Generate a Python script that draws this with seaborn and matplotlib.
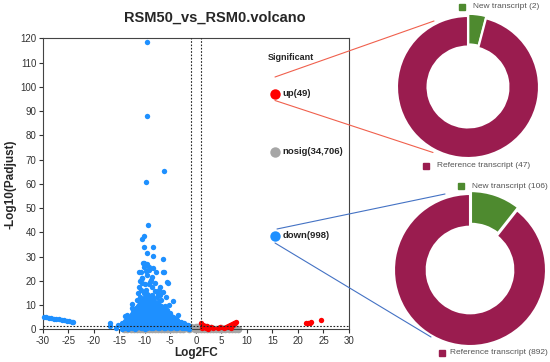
import numpy as np
import pandas as pd
import matplotlib
matplotlib.use("Agg")
import matplotlib.pyplot as plt
from matplotlib.lines import Line2D
from matplotlib.patches import Rectangle
import seaborn as sns

sns.set_theme(style="ticks")
plt.rcParams['font.family'] = ['Liberation Sans', 'DejaVu Sans']

# ---------------- data ----------------
title = "RSM50_vs_RSM0.volcano"
x_ticks = [-30, -25, -20, -15, -10, -5, 0, 5, 10, 15, 20, 25, 30]
y_ticks = [0, 10, 20, 30, 40, 50, 60, 70, 80, 90, 100, 110, 120]
fc_cut = 1.0
p_cut = 1.3

sig_labels = ["up(49)", "nosig(34,706)", "down(998)"]
sig_colors = ["#FF0000", "#A6A6A6", "#1E90FF"]

# down-regulated (blue)
down_line_x = [-29.8, -29.3, -28.8, -28.3, -27.8, -27.3, -26.8, -26.3, -25.8, -25.3, -24.8, -24.3, -24.0]
down_line_y = [5.2, 5.0, 4.8, 4.6, 4.4, 4.3, 4.1, 3.9, 3.7, 3.5, 3.3, 3.1, 3.0]
down_cols = {
    -14.5: [0.3, 1.5, 2.8],
    -14.1: [0.8, 2.2],
    -13.8: [0.5, 1.8, 3.5],
    -13.5: [1.0, 2.8, 4.5, 5.8],
    -13.2: [0.2, 1.2, 2.5, 4.2],
    -12.9: [0.8, 2.0, 3.8, 5.2],
    -12.6: [0.6, 2.0, 3.4, 5.2, 6.5],
    -12.3: [1.0, 2.2, 3.5, 5.0, 6.6, 8.0],
    -12.0: [0.3, 1.5, 2.8, 4.2, 5.8, 7.2],
    -11.7: [0.4, 1.6, 3.0, 4.4, 5.8, 7.2, 8.6],
    -11.4: [0.8, 2.2, 3.6, 5.0, 6.6, 8.0, 9.8],
    -11.1: [1.2, 2.7, 4.0, 5.5, 7.0, 8.6, 10.2, 11.5],
    -10.8: [0.4, 1.6, 3.0, 4.4, 5.9, 7.4, 8.8, 10.5, 12.0],
    -10.5: [0.6, 2.0, 3.5, 4.9, 6.3, 7.9, 9.4, 10.8, 12.5],
    -10.2: [1.0, 2.4, 3.8, 5.2, 6.7, 8.2, 9.6, 11.2],
    -9.9: [0.3, 1.6, 3.0, 4.4, 5.8, 7.2, 8.8, 10.3, 11.9, 13.5],
    -9.6: [0.5, 1.8, 3.2, 4.7, 6.1, 7.6, 9.1, 10.6, 12.3, 14.5],
    -9.3: [0.8, 2.2, 3.6, 5.0, 6.5, 8.0, 9.6, 11.2, 12.8],
    -9.0: [1.1, 2.6, 4.0, 5.5, 7.0, 8.4, 10.0, 11.6],
    -8.7: [0.5, 2.0, 3.5, 5.0, 6.4, 7.9, 9.4, 11.0, 12.5],
    -8.4: [0.4, 1.8, 3.3, 4.8, 6.2, 7.8, 9.3, 11.0, 12.8],
    -8.1: [1.2, 2.6, 4.1, 5.6, 7.1, 8.6, 10.0, 11.8],
    -7.8: [1.0, 2.5, 4.0, 5.4, 6.9, 8.5, 10.2],
    -7.5: [0.4, 1.9, 3.4, 4.9, 6.3, 7.8, 9.5, 10.8],
    -7.2: [0.5, 1.8, 3.2, 4.6, 6.0, 7.5, 9.0, 11.5],
    -6.9: [0.8, 2.2, 3.6, 5.0, 6.4, 7.9, 9.6],
    -6.6: [1.2, 2.6, 4.0, 5.4, 6.8, 8.3],
    -6.3: [0.5, 1.9, 3.3, 4.8, 6.3, 7.8, 9.0],
    -6.0: [0.4, 1.8, 3.2, 4.6, 6.0, 7.6, 9.5],
    -5.7: [0.9, 2.3, 3.6, 5.0, 6.4, 7.8],
    -5.4: [1.0, 2.4, 3.8, 5.2, 6.5],
    -5.1: [0.4, 1.6, 2.9, 4.2, 5.5, 6.8],
    -4.8: [0.5, 1.7, 3.0, 4.3, 5.6],
    -4.5: [1.0, 2.3, 3.6, 4.9],
    -4.2: [0.9, 2.2, 3.5, 4.6],
    -3.9: [0.5, 1.7, 2.9, 4.1],
    -3.6: [0.4, 1.5, 2.7, 3.8],
    -3.3: [0.8, 2.0, 3.2],
    -3.0: [0.9, 2.0, 3.1],
    -2.7: [0.4, 1.5, 2.6],
    -2.4: [0.4, 1.4, 2.4],
    -2.1: [0.8, 1.9],
    -1.8: [0.6, 1.6],
    -1.5: [0.5, 1.6],
    -1.3: [0.3, 1.2],
}
down_sparse_x = [-16.9, -16.8, -15.2, -15.6, -13.9, -12.5, -11.9, -11.1, -10.9, -9.7, -8.6, -5.8, -4.5,
                 -7.1, -5.6, -10.6, -8.6, -11.1, -7.8, -6.5, -8.3, -9.1, -9.6, -10.3, -6.5, -8.4,
                 -10.1, -10.6, -10.1, -9.3, -9.7, -6.2, -9.6, -9.6, -10.5, -9.2, -8.0, -7.5, -10.2,
                 -11.5, -6.8, -5.2, -3.5, -12.5,
                 -8.3, -10.1, -10.8, -9.1, -6.3, -10.5, -9.0, -5.4, -10.0, -8.5, -10.8, -7.3, -11.4,
                 -9.3, -7.7, -10.4, -12.2, -11.5, -9.5, -8.8, -9.8, -10.2, -8.0, -7.0, -6.5, -11.0, -9.6]
down_sparse_y = [2.7, 1.5, 1.8, 0.4, 5.5, 8.7, 8.0, 17.3, 13.4, 16.2, 14.1, 13.4, 11.8,
                 17.3, 19.6, 21.0, 21.7, 23.8, 23.8, 23.8, 25.2, 25.6, 26.9, 27.5, 29.0, 30.2,
                 33.8, 37.2, 38.6, 43.0, 60.7, 65.4, 88.0, 118.5, 19.0, 18.5, 16.0, 14.5, 15.0,
                 12.0, 12.0, 10.0, 6.0, 10.5,
                 33.8, 27.2, 23.8, 24.5, 23.5, 21.0, 19.6, 19.2, 18.7, 17.6, 16.2, 16.2, 14.8,
                 14.1, 13.4, 11.4, 8.0, 7.3, 22.5, 20.5, 24.0, 25.5, 19.0, 14.0, 15.5, 20.0, 31.5]

# up-regulated (red)
up_x = [1.0, 1.4, 1.7, 1.9, 1.2, 2.4, 3.0, 3.4, 4.3, 4.8, 5.6, 5.9, 6.3, 6.6, 6.8, 7.1, 7.4, 7.7, 7.9,
        6.9, 7.3, 1.6, 2.1, 21.6, 22.0, 22.3, 22.6, 24.6]
up_y = [2.5, 1.9, 1.3, 0.6, 0.4, 0.3, 1.0, 0.7, 0.5, 0.8, 0.6, 1.1, 1.4, 1.8, 1.2, 2.0, 2.4, 2.7, 3.0,
        0.7, 1.6, 0.9, 1.5, 2.5, 2.7, 2.8, 2.9, 3.8]

# not significant (grey)
nosig_x = [-14.0, -13.4, -12.8, -12.2, -11.6, -11.0, -10.4, -9.8, -9.2, -8.6, -8.0, -7.4, -6.8, -6.2,
           -5.6, -5.0, -4.4, -3.8, -3.2, -2.6, -2.0, -1.4, -0.8, -0.2, 0.4, 1.0, 1.6, 2.2, 2.8,
           3.4, 4.0, 4.6, 5.2, 5.8, 6.4, 7.0, 7.6, 8.2, -11.0, -9.0, -7.0, -5.0, -3.0, -1.0, 0.0,
           1.0, 3.0, 5.0, 7.0, -4.0, -2.0, 0.5, 2.0]
nosig_y = [0.0, 0.1, 0.0, 0.2, 0.1, 0.0, 0.2, 0.1, 0.0, 0.2, 0.1, 0.0, 0.2, 0.1, 0.0, 0.2, 0.1, 0.3,
           0.0, 0.2, 0.4, 0.1, 0.5, 0.3, 0.0, 0.2, 0.1, 0.3, 0.0, 0.2, 0.1, 0.0, 0.2, 0.1, 0.0,
           0.1, 0.0, 0.0, 0.5, 0.6, 0.5, 0.6, 0.7, 0.8, 0.9, 0.7, 0.5, 0.6, 0.4, 0.9, 1.0, 1.1, 0.8]

# donut data
donut_labels = ["New transcript", "Reference transcript"]
up_counts = [2, 47]
down_counts = [106, 892]
donut_colors = ["#4E8A2F", "#9A1C4F"]

# ---------------- build tables ----------------
dcx, dcy = [], []
for k, v in down_cols.items():
    dcx += [k] * len(v)
    dcy += v
down_df = pd.DataFrame({"x": down_line_x + dcx + down_sparse_x,
                        "y": down_line_y + dcy + down_sparse_y, "g": "down"})
up_df = pd.DataFrame({"x": up_x, "y": up_y, "g": "up"})
ns_df = pd.DataFrame({"x": nosig_x, "y": nosig_y, "g": "nosig"})

W, H = 550, 362
fig = plt.figure(figsize=(W / 100, H / 100), dpi=100)

def fx(px):
    return px / W

def fy(py):
    return 1 - py / H

ax = fig.add_axes([fx(42.7), fy(329.3), fx(349) - fx(42.7), fy(38.3) - fy(329.3)])

sns.scatterplot(data=ns_df, x="x", y="y", color="#A6A6A6", s=30, linewidth=0, ax=ax,
                clip_on=False, legend=False, zorder=1)
sns.scatterplot(data=down_df, x="x", y="y", color="#1E90FF", s=15, linewidth=0, ax=ax,
                clip_on=False, legend=False, zorder=3)
sns.scatterplot(data=up_df, x="x", y="y", color="#FF0000", s=15, linewidth=0, ax=ax,
                clip_on=False, legend=False, zorder=3)

ax.axvline(-fc_cut, color="#222222", lw=0.8, ls=(0, (1.5, 1.5)), zorder=4)
ax.axvline(fc_cut, color="#222222", lw=0.8, ls=(0, (1.5, 1.5)), zorder=4)
ax.axhline(p_cut, color="#222222", lw=0.8, ls=(0, (1.5, 1.5)), zorder=4)

ax.set_xlim(-30, 30)
ax.set_ylim(0, 120)
ax.set_xticks(x_ticks)
ax.set_yticks(y_ticks)
ax.set_xticklabels([str(t) for t in x_ticks])
ax.set_yticklabels([str(t) for t in y_ticks])
ax.tick_params(labelsize=7, colors="#333333", length=3, width=0.8, pad=1.5)
for sp in ax.spines.values():
    sp.set_visible(True)
    sp.set_color("#444444")
    sp.set_linewidth(0.8)
ax.set_xlabel("Log2FC", fontsize=8.5, fontweight="bold", labelpad=1)
ax.set_ylabel("-Log10(Padjust)", fontsize=8.5, fontweight="bold", labelpad=3)

fig.text(fx(215), fy(18), title, fontsize=10.5, fontweight="bold", ha="center", va="center")

# significance legend
fig.text(fx(290.5), fy(57), "Significant", fontsize=6.5, fontweight="bold", ha="center", va="center")
leg_y = [94, 152, 236]
for lab, col, py in zip(sig_labels, sig_colors, leg_y):
    fig.add_artist(Line2D([fx(275)], [fy(py)], marker="o", markersize=7.5, color=col,
                          markeredgewidth=0, transform=fig.transFigure))
    fig.text(fx(282.5), fy(py), lab, fontsize=6.8, fontweight="bold", ha="left", va="center",
             color="#222222")

# connector lines
red_c = "#F0604D"
blue_c = "#4472C4"
for (x0, y0, x1, y1, c) in [(275, 77, 434, 21, red_c), (275, 100.5, 433, 152.5, red_c),
                            (277, 229, 445, 194, blue_c), (275, 243, 431, 337, blue_c)]:
    fig.add_artist(Line2D([fx(x0), fx(x1)], [fy(y0), fy(y1)], color=c, lw=0.8,
                          transform=fig.transFigure))

# donuts
def donut(cx, cy, r, counts, legend_pos, expl):
    a = fig.add_axes([fx(cx - r), fy(cy + r), 2 * r / W, 2 * r / H])
    wedges, _ = a.pie(counts, colors=donut_colors, startangle=90, counterclock=False,
                      explode=[expl, 0], radius=1,
                      wedgeprops=dict(width=0.43, edgecolor="white", linewidth=1.5))
    for w in wedges:
        w.set_clip_on(False)
    a.set_xlim(-1, 1)
    a.set_ylim(-1, 1)
    a.axis("off")
    for (sx, sy, tx), lab, n, col in zip(legend_pos, donut_labels, counts, donut_colors):
        fig.add_artist(Rectangle((fx(sx - 3), fy(sy + 3)), 6 / W, 6 / H, color=col,
                                 transform=fig.transFigure))
        fig.text(fx(tx), fy(sy), f"{lab} ({n})", fontsize=6, color="#555555",
                 ha="left", va="center")

donut(468, 87, 71, up_counts, [(462, 6.5, 473), (426, 165.5, 437)], 0.03)
donut(470, 270, 76, down_counts, [(460.5, 186, 471.5), (442, 353, 450.5)], 0.04)

fig.savefig("out.png", dpi=100)
